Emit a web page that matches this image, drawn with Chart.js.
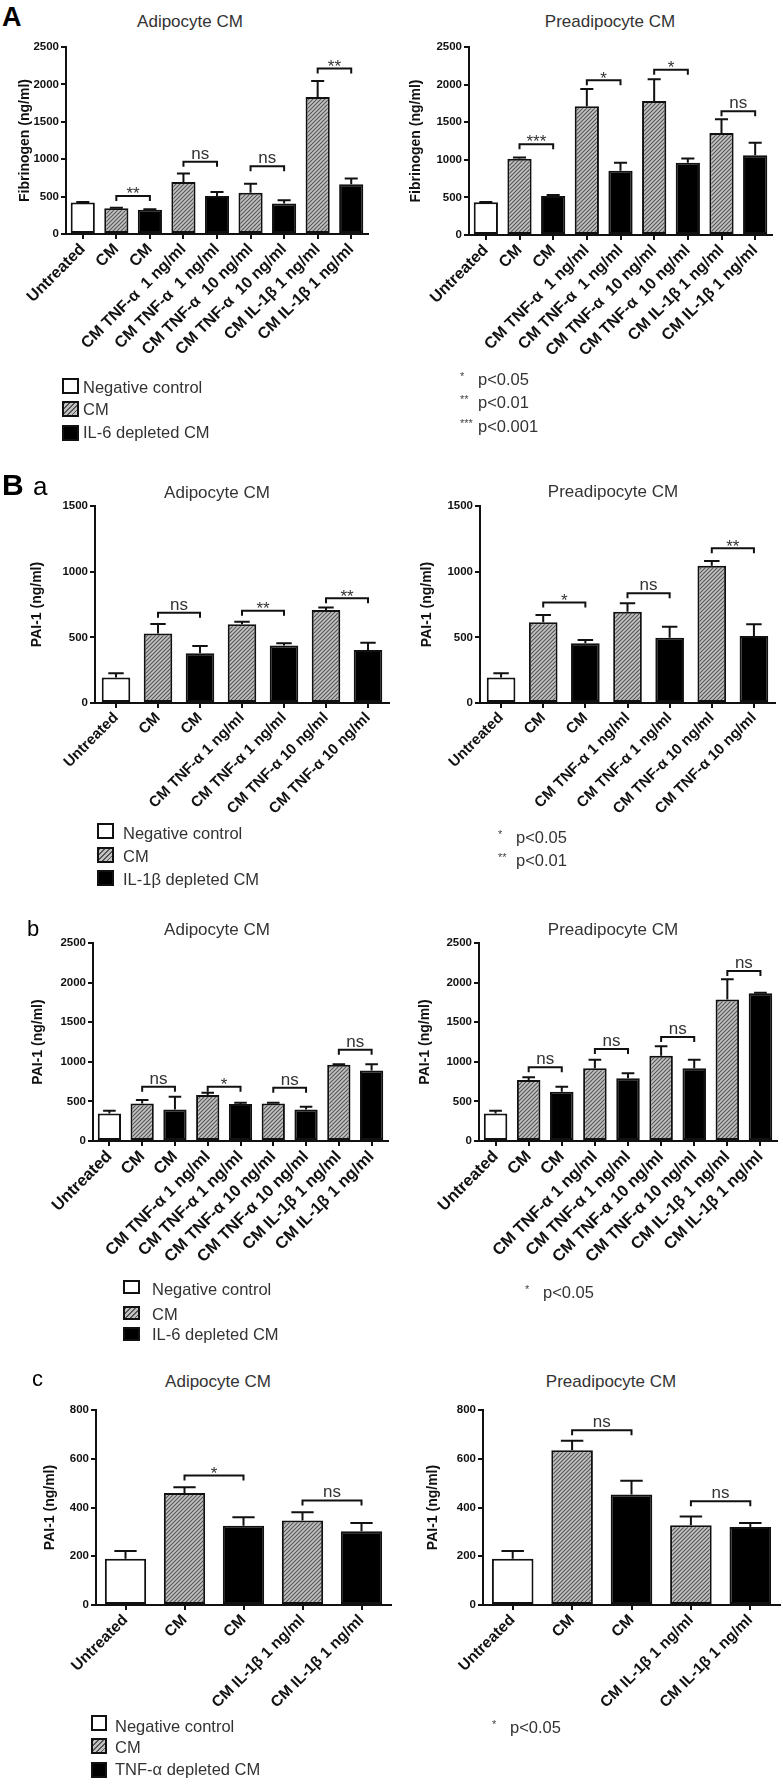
<!DOCTYPE html>
<html>
<head>
<meta charset="utf-8">
<script src="https://cdn.jsdelivr.net/npm/chart.js@4.4.1/dist/chart.umd.min.js"></script>
<style>
  body { margin: 0; background: #fff; }
  #page { position: relative; width: 783px; height: 1789px; overflow: hidden; background: #fff;
          font-family: "Liberation Sans", Arial, Helvetica, sans-serif; }
  #page canvas { position: absolute; }
  .txt { position: absolute; white-space: nowrap; line-height: 1; color: #333; }
  .sw { position: absolute; box-sizing: border-box; border: 2px solid #111; background: #fff; }
  .sw.cm { background: repeating-linear-gradient(135deg, #555 0 1.2px, #c2c2c2 1.2px 3.4px); }
  .sw.dep { background: #000; }
</style>
</head>
<body>
<div id="page"></div>
<script>
const FONT = '"Liberation Sans", Arial, Helvetica, sans-serif';

// ---- categories ----
const labelsFib = ["Untreated", "CM", "CM", "CM TNF-α  1 ng/ml", "CM TNF-α  1 ng/ml",
  "CM TNF-α  10 ng/ml", "CM TNF-α  10 ng/ml", "CM IL-1β 1 ng/ml", "CM IL-1β 1 ng/ml"];
const labelsFull = ["Untreated", "CM", "CM", "CM TNF-α 1 ng/ml", "CM TNF-α 1 ng/ml",
  "CM TNF-α 10 ng/ml", "CM TNF-α 10 ng/ml", "CM IL-1β 1 ng/ml", "CM IL-1β 1 ng/ml"];
const labelsTnf = ["Untreated", "CM", "CM", "CM TNF-α 1 ng/ml", "CM TNF-α 1 ng/ml",
  "CM TNF-α 10 ng/ml", "CM TNF-α 10 ng/ml"];
const labelsIl1 = ["Untreated", "CM", "CM", "CM IL-1β 1 ng/ml", "CM IL-1β 1 ng/ml"];
const groupsFull = ["neg", "cm", "dep", "cm", "dep", "cm", "dep", "cm", "dep"];
const groupsTnf = ["neg", "cm", "dep", "cm", "dep", "cm", "dep"];
const groupsIl1 = ["neg", "cm", "dep", "cm", "dep"];

// ---- A: fibrinogen, IL-6 depleted ----
const fibAdipoMean = [420, 345, 323, 695, 509, 553, 407, 1832, 664];
const fibAdipoErr = [428, 352, 330, 810, 562, 672, 451, 2044, 743];
const fibAdipoSig = [[1, 2, 509, "**"], [3, 4, 965, "ns"], [5, 6, 907, "ns"], [7, 8, 2212, "**"]];
const fibPreMean = [434, 1013, 518, 1712, 854, 1783, 960, 1358, 1062];
const fibPreErr = [440, 1031, 531, 1942, 960, 2071, 1018, 1540, 1226];
const fibPreSig = [[1, 2, 1208, "***"], [3, 4, 2058, "*"], [5, 6, 2199, "*"], [7, 8, 1646, "ns"]];

// ---- B a: PAI-1, IL-1β depleted ----
const il1AdipoMean = [195, 530, 378, 599, 437, 708, 404];
const il1AdipoErr = [226, 601, 434, 619, 454, 728, 459];
const il1AdipoSig = [[1, 2, 688, "ns"], [3, 4, 703, "**"], [5, 6, 797, "**"]];
const il1PreMean = [195, 614, 454, 695, 497, 1046, 510];
const il1PreErr = [226, 670, 480, 759, 581, 1081, 599];
const il1PreSig = [[1, 2, 766, "*"], [3, 4, 835, "ns"], [5, 6, 1178, "**"]];

// ---- B b: PAI-1, IL-6 depleted ----
const il6AdipoMean = [347, 475, 398, 580, 466, 475, 398, 962, 890];
const il6AdipoErr = [381, 517, 559, 610, 483, 483, 432, 970, 970];
const il6AdipoSig = [[1, 2, 686, "ns"], [3, 4, 686, "*"], [5, 6, 673, "ns"], [7, 8, 1153, "ns"]];
const il6PreMean = [347, 771, 623, 919, 792, 1076, 919, 1788, 1864];
const il6PreErr = [381, 805, 686, 1025, 856, 1195, 1025, 2042, 1873];
const il6PreSig = [[1, 2, 932, "ns"], [3, 4, 1161, "ns"], [5, 6, 1314, "ns"], [7, 8, 2148, "ns"]];

// ---- B c: PAI-1, TNF-α depleted ----
const tnfAdipoMean = [190, 460, 325, 347, 303];
const tnfAdipoErr = [222, 483, 360, 381, 336];
const tnfAdipoSig = [[1, 2, 531, "*"], [3, 4, 429, "ns"]];
const tnfPreMean = [190, 635, 453, 327, 320];
const tnfPreErr = [222, 674, 510, 363, 336];
const tnfPreSig = [[1, 2, 717, "ns"], [3, 4, 426, "ns"]];

const legendIl6 = ["Negative control", "CM", "IL-6 depleted CM"];
const legendIl1 = ["Negative control", "CM", "IL-1β depleted CM"];
const legendTnf = ["Negative control", "CM", "TNF-α depleted CM"];

// ---- layout of the eight panels ----
const panels = [
  { labels: labelsFib, groups: groupsFull, mean: fibAdipoMean, err: fibAdipoErr, sig: fibAdipoSig,
    yTitle: "Fibrinogen (ng/ml)", yMax: 2500, step: 500, axisX: 66, top: 47, zero: 234, right: 368, titleX: 25, bar: 0.72, xSize: 16 },
  { labels: labelsFib, groups: groupsFull, mean: fibPreMean, err: fibPreErr, sig: fibPreSig,
    yTitle: "Fibrinogen (ng/ml)", yMax: 2500, step: 500, axisX: 469, top: 47, zero: 235, right: 772, titleX: 416, bar: 0.72, xSize: 16 },
  { labels: labelsTnf, groups: groupsTnf, mean: il1AdipoMean, err: il1AdipoErr, sig: il1AdipoSig,
    yTitle: "PAI-1 (ng/ml)", yMax: 1500, step: 500, axisX: 95, top: 506, zero: 703, right: 389, titleX: 37, bar: 0.68, xSize: 15 },
  { labels: labelsTnf, groups: groupsTnf, mean: il1PreMean, err: il1PreErr, sig: il1PreSig,
    yTitle: "PAI-1 (ng/ml)", yMax: 1500, step: 500, axisX: 480, top: 506, zero: 703, right: 775, titleX: 427, bar: 0.68, xSize: 15 },
  { labels: labelsFull, groups: groupsFull, mean: il6AdipoMean, err: il6AdipoErr, sig: il6AdipoSig,
    yTitle: "PAI-1 (ng/ml)", yMax: 2500, step: 500, axisX: 93, top: 943, zero: 1141, right: 388, titleX: 38, bar: 0.71, xSize: 16.5 },
  { labels: labelsFull, groups: groupsFull, mean: il6PreMean, err: il6PreErr, sig: il6PreSig,
    yTitle: "PAI-1 (ng/ml)", yMax: 2500, step: 500, axisX: 479, top: 943, zero: 1141, right: 777, titleX: 425, bar: 0.71, xSize: 16.5 },
  { labels: labelsIl1, groups: groupsIl1, mean: tnfAdipoMean, err: tnfAdipoErr, sig: tnfAdipoSig,
    yTitle: "PAI-1 (ng/ml)", yMax: 800, step: 200, axisX: 96, top: 1410, zero: 1605, right: 391, titleX: 50, bar: 0.7, xSize: 15.5 },
  { labels: labelsIl1, groups: groupsIl1, mean: tnfPreMean, err: tnfPreErr, sig: tnfPreSig,
    yTitle: "PAI-1 (ng/ml)", yMax: 800, step: 200, axisX: 483, top: 1410, zero: 1605, right: 780, titleX: 433, bar: 0.7, xSize: 15.5 },
];

const page = document.getElementById("page");

function hatchPattern() {
  const tile = document.createElement("canvas");
  tile.width = 4;
  tile.height = 4;
  const c = tile.getContext("2d");
  c.fillStyle = "#c2c2c2";
  c.fillRect(0, 0, 4, 4);
  c.strokeStyle = "#555";
  c.lineWidth = 1.1;
  c.beginPath();
  c.moveTo(0, 4); c.lineTo(4, 0);
  c.moveTo(-1, 1); c.lineTo(1, -1);
  c.moveTo(3, 5); c.lineTo(5, 3);
  c.stroke();
  return c.createPattern(tile, "repeat");
}

const fills = { neg: "#ffffff", cm: hatchPattern(), dep: "#000000" };

// error bars (upper side) and significance brackets
function annotPlugin(err, sig, sigSize) {
  return {
    id: "annot",
    afterDatasetsDraw(chart) {
      const ctx = chart.ctx;
      const y = chart.scales.y;
      const bars = chart.getDatasetMeta(0).data;
      ctx.save();
      ctx.strokeStyle = "#111";
      ctx.lineWidth = 2;
      bars.forEach((bar, i) => {
        const top = y.getPixelForValue(err[i]);
        const half = bar.width * 0.27;
        ctx.beginPath();
        ctx.moveTo(bar.x, bar.y);
        ctx.lineTo(bar.x, top);
        ctx.moveTo(bar.x - half, top);
        ctx.lineTo(bar.x + half, top);
        ctx.stroke();
      });
      ctx.fillStyle = "#333";
      ctx.font = sigSize + "px " + FONT;
      ctx.textAlign = "center";
      ctx.textBaseline = "alphabetic";
      sig.forEach(([a, b, value, text]) => {
        const x1 = bars[a].x;
        const x2 = bars[b].x;
        const yy = y.getPixelForValue(value);
        ctx.beginPath();
        ctx.moveTo(x1, yy + 5);
        ctx.lineTo(x1, yy);
        ctx.lineTo(x2, yy);
        ctx.lineTo(x2, yy + 5);
        ctx.stroke();
        const base = text.includes("*") ? yy + sigSize * 0.43 - 4 : yy - 3;
        ctx.fillText(text, (x1 + x2) / 2, base);
      });
      ctx.restore();
    },
  };
}

function buildChart(p) {
  const titleSize = 14;
  const padTop = 14;
  const padRight = 6;
  const xHeight = 150;
  const left = Math.round(p.titleX - (titleSize * 1.2) / 2 - 2);
  const yWidth = p.axisX - left;

  const canvas = document.createElement("canvas");
  canvas.width = Math.round(p.right - left + padRight);
  canvas.height = Math.round(padTop + (p.zero - p.top) + xHeight);
  canvas.style.left = left + "px";
  canvas.style.top = p.top - padTop + "px";
  page.appendChild(canvas);

  return new Chart(canvas, {
    type: "bar",
    data: {
      labels: p.labels,
      datasets: [
        {
          data: p.mean,
          backgroundColor: p.groups.map((g) => fills[g]),
          borderColor: "#111",
          borderWidth: 2,
          borderSkipped: false,
          barPercentage: p.bar,
          categoryPercentage: 1,
        },
      ],
    },
    options: {
      responsive: false,
      animation: false,
      events: [],
      layout: { padding: { top: padTop, right: padRight, left: 0, bottom: 0 } },
      plugins: { legend: { display: false }, tooltip: { enabled: false } },
      scales: {
        x: {
          offset: true,
          grid: { offset: false, drawOnChartArea: false, tickLength: 5, color: "#111", lineWidth: 2 },
          border: { color: "#111", width: 2 },
          ticks: {
            autoSkip: false,
            minRotation: 45,
            maxRotation: 45,
            padding: 1,
            color: "#111",
            font: { family: FONT, size: p.xSize, weight: "bold" },
          },
          afterFit: (s) => { s.height = xHeight; },
        },
        y: {
          min: 0,
          max: p.yMax,
          ticks: {
            stepSize: p.step,
            padding: 2,
            color: "#111",
            font: { family: FONT, size: 11.5, weight: "bold" },
            callback: (v) => String(v),
          },
          grid: { drawOnChartArea: false, tickLength: 5, color: "#111", lineWidth: 2 },
          border: { color: "#111", width: 2 },
          title: {
            display: true,
            text: p.yTitle,
            color: "#111",
            padding: { top: 2, bottom: 2 },
            font: { family: FONT, size: titleSize, weight: "bold" },
          },
          afterFit: (s) => { s.width = yWidth; },
        },
      },
    },
    plugins: [annotPlugin(p.err, p.sig, 17)],
  });
}

function addText(text, x, baseline, size, opts = {}) {
  const el = document.createElement("div");
  el.className = "txt";
  el.textContent = text;
  el.style.fontSize = size + "px";
  el.style.left = x + "px";
  el.style.top = baseline - 0.8465 * size + "px";
  if (opts.center) el.style.transform = "translateX(-50%)";
  if (opts.bold) el.style.fontWeight = "bold";
  if (opts.color) el.style.color = opts.color;
  page.appendChild(el);
}

function addLegend(items, swX, swW, swH, swTops, textX, baselines) {
  const kinds = ["neg", "cm", "dep"];
  items.forEach((text, i) => {
    const sw = document.createElement("div");
    sw.className = "sw " + kinds[i];
    sw.style.left = swX + "px";
    sw.style.top = swTops[i] + "px";
    sw.style.width = swW + "px";
    sw.style.height = swH + "px";
    page.appendChild(sw);
    addText(text, textX, baselines[i], 16.5);
  });
}

function addSigKey(stars, texts, starX, textX, baselines) {
  texts.forEach((text, i) => {
    addText(stars[i], starX, baselines[i] - 5, 11, { color: "#444" });
    addText(text, textX, baselines[i], 16.5);
  });
}

panels.forEach(buildChart);

// panel letters
addText("A", 2, 27, 27, { bold: true, color: "#000" });
addText("B", 2, 495, 30, { bold: true, color: "#000" });
addText("a", 33, 495, 26, { color: "#000" });
addText("b", 27, 937, 22, { color: "#000" });
addText("c", 32, 1387, 22, { color: "#000" });

// panel titles
addText("Adipocyte CM", 190, 27, 17, { center: true });
addText("Preadipocyte CM", 610, 27, 17, { center: true });
addText("Adipocyte CM", 217, 498, 17, { center: true });
addText("Preadipocyte CM", 613, 497, 17, { center: true });
addText("Adipocyte CM", 217, 935, 17, { center: true });
addText("Preadipocyte CM", 613, 935, 17, { center: true });
addText("Adipocyte CM", 218, 1387, 17, { center: true });
addText("Preadipocyte CM", 611, 1387, 17, { center: true });

// legends
addLegend(legendIl6, 62, 17, 16, [378, 401, 425], 83, [393, 415, 438]);
addLegend(legendIl1, 97, 17, 16, [823, 847, 870], 123, [839, 862, 885]);
addLegend(legendIl6, 123, 17, 14, [1280, 1306, 1327], 152, [1295, 1320, 1340]);
addLegend(legendTnf, 91, 16, 16, [1715, 1738, 1762], 115, [1732, 1753, 1775]);

// significance keys
addSigKey(["*", "**", "***"], ["p<0.05", "p<0.01", "p<0.001"], 460, 478, [385, 408, 432]);
addSigKey(["*", "**"], ["p<0.05", "p<0.01"], 498, 516, [843, 866]);
addSigKey(["*"], ["p<0.05"], 525, 543, [1298]);
addSigKey(["*"], ["p<0.05"], 492, 510, [1733]);
</script>
</body>
</html>
